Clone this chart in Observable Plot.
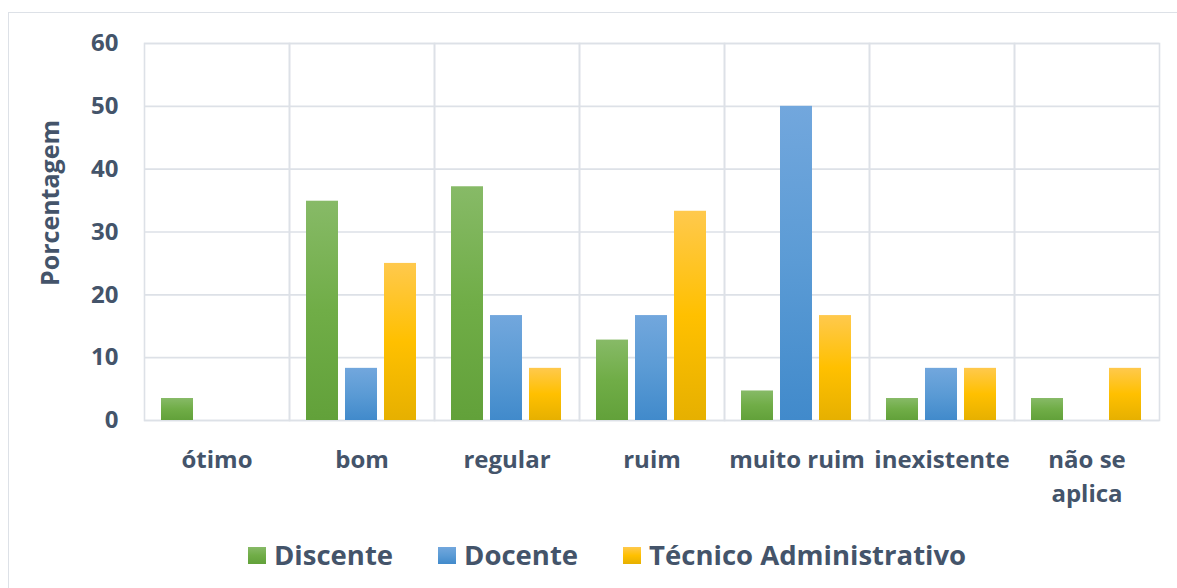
<!DOCTYPE html>
<html>
<head>
<meta charset="utf-8">
<script src="https://cdn.jsdelivr.net/npm/d3@7"></script>
<script src="https://cdn.jsdelivr.net/npm/@observablehq/plot@0.6"></script>
<style>
  html, body { margin: 0; padding: 0; background: #fff; }
  body { width: 1177px; height: 588px; position: relative; overflow: hidden; font-family: "Open Sans", sans-serif; }
  #chart { position: absolute; left: 0; top: 0; }
  #border { position: absolute; left: 8px; top: 12px; width: 1300px; height: 700px; border: 1.5px solid #DDE1E7; pointer-events: none; }
  #ylabel { position: absolute; left: 49px; top: 203px; transform: translate(-50%, -50%) rotate(-90deg); font-weight: 700; font-size: 25px; color: #44546A; white-space: nowrap; }
  #legend { position: absolute; top: 536px; left: 248px; display: flex; gap: 45px; font-weight: 700; font-size: 27.5px; color: #44546A; line-height: 38px; }
  .item { display: flex; align-items: center; gap: 8px; }
  .sw { width: 18px; height: 17px; display: inline-block; }
</style>
</head>
<body>
<div id="chart"></div>
<div id="border"></div>
<div id="ylabel">Porcentagem</div>
<div id="legend"></div>
<script>
const categories = ["ótimo", "bom", "regular", "ruim", "muito ruim", "inexistente", "não se aplica"];
const categoryLabels = ["ótimo", "bom", "regular", "ruim", "muito ruim", "inexistente", "não se\naplica"];
const series = ["Discente", "Docente", "Técnico Administrativo"];
const discente = [3.5, 34.9, 37.2, 12.8, 4.7, 3.5, 3.5];
const docente = [0, 8.3, 16.7, 16.7, 50, 8.3, 0];
const tecnico = [0, 25, 8.3, 33.3, 16.7, 8.3, 8.3];
const yTicks = [0, 10, 20, 30, 40, 50, 60];

const gradients = {
  "Discente": ["#87BA67", "#70AD47", "#62A13A"],
  "Docente": ["#72A7DD", "#5B9BD5", "#418ACB"],
  "Técnico Administrativo": ["#FFC94D", "#FFC000", "#E6B000"]
};
const gradIds = {"Discente": "gDisc", "Docente": "gDoc", "Técnico Administrativo": "gTec"};

const values = [discente, docente, tecnico];
const data = [];
series.forEach((s, si) => {
  categories.forEach((c, ci) => {
    data.push({category: c, series: s, value: values[si][ci]});
  });
});

const labelMap = new Map(categories.map((c, i) => [c, categoryLabels[i]]));

const plot = Plot.plot({
  width: 1177,
  height: 520,
  marginTop: 43,
  marginLeft: 143,
  marginRight: 17,
  marginBottom: 100,
  style: {fontFamily: "Open Sans, sans-serif", fontWeight: 700, fontSize: "24px", color: "#44546A", background: "transparent"},
  fx: {domain: categories, padding: 0},
  x: {domain: series, paddingInner: 0.175, paddingOuter: 0.404},
  y: {domain: [0, 60]},
  color: {domain: series, range: series.map(s => `url(#${gradIds[s]})`)},
  marks: [
    Plot.gridY(yTicks, {stroke: "#DDE1E7", strokeOpacity: 1, strokeWidth: 1.6}),
    Plot.frame({stroke: "#DDE1E7", strokeWidth: 1.6}),
    Plot.barY(data, {fx: "category", x: "series", y: "value", fill: "series"}),
    Plot.axisY(yTicks, {tickSize: 0, tickPadding: 26, fontSize: 24, fontWeight: 700, label: null}),
    Plot.axisX({ticks: [], label: null}),
    Plot.axisFx({anchor: "bottom", tickSize: 0, tickPadding: 23, fontSize: 24, fontWeight: 700, lineHeight: 1.42, label: null, tickFormat: d => labelMap.get(d)})
  ]
});

const svg = d3.select(plot);
const defs = svg.insert("defs", ":first-child");
series.forEach(s => {
  const g = defs.append("linearGradient").attr("id", gradIds[s]).attr("x1", 0).attr("y1", 0).attr("x2", 0).attr("y2", 1);
  const cols = gradients[s];
  g.append("stop").attr("offset", "0%").attr("stop-color", cols[0]);
  g.append("stop").attr("offset", "50%").attr("stop-color", cols[1]);
  g.append("stop").attr("offset", "100%").attr("stop-color", cols[2]);
});
document.getElementById("chart").appendChild(plot);

const legend = d3.select("#legend");
series.forEach(s => {
  const item = legend.append("div").attr("class", "item");
  const cols = gradients[s];
  item.append("span").attr("class", "sw").style("background", `linear-gradient(to bottom, ${cols[0]}, ${cols[1]} 50%, ${cols[2]})`);
  item.append("span").text(s);
});
</script>
</body>
</html>
